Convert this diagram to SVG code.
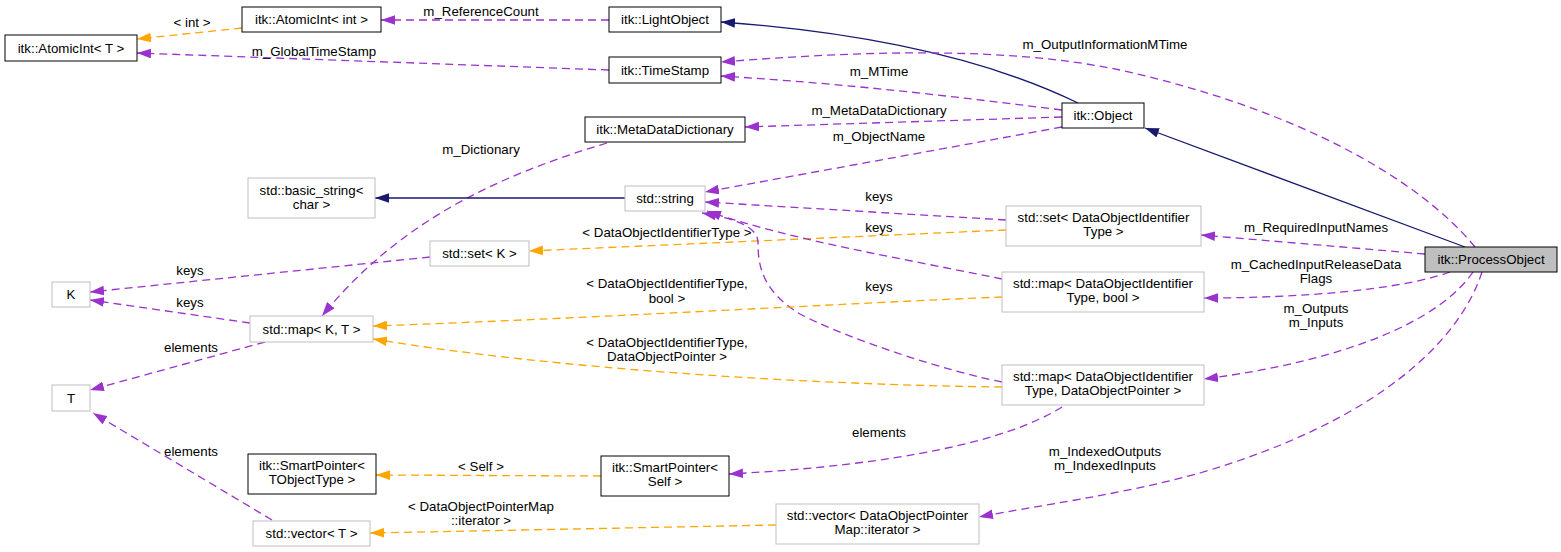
<svg xmlns="http://www.w3.org/2000/svg" width="1561" height="552" viewBox="0 0 1561 552">
<style>
text{font-family:"Liberation Sans",Arial,sans-serif;font-size:13.3px;fill:#000;text-anchor:middle}
.node rect{fill:#fff;stroke:#000;stroke-width:1}
.node.u rect{stroke:#bfbfbf}
.node.cur rect{fill:#bfbfbf}
.e{fill:none;stroke-width:1.3}
.p{stroke:#9a32cd;stroke-dasharray:8,5;marker-end:url(#mp)}
.o{stroke:#ffa500;stroke-dasharray:8,5;marker-end:url(#mo)}
.n{stroke:#191970;marker-end:url(#mn)}
</style>
<defs>
<marker id="mp" markerUnits="userSpaceOnUse" markerWidth="14" markerHeight="10" viewBox="0 0 13 9" refX="13" refY="4.5" orient="auto"><path d="M0,0L13,4.5L0,9z" fill="#9a32cd"/></marker>
<marker id="mo" markerUnits="userSpaceOnUse" markerWidth="14" markerHeight="10" viewBox="0 0 13 9" refX="13" refY="4.5" orient="auto"><path d="M0,0L13,4.5L0,9z" fill="#ffa500"/></marker>
<marker id="mn" markerUnits="userSpaceOnUse" markerWidth="14" markerHeight="10" viewBox="0 0 13 9" refX="13" refY="4.5" orient="auto"><path d="M0,0L13,4.5L0,9z" fill="#191970"/></marker>
</defs>
<rect width="1561" height="552" fill="#fff"/>
<g id="connectors">
<g><path class="e n" d="M1465,247L1145,128"/></g>
<g><path class="e n" d="M1078,103C1010,70 900,35 721,22"/></g>
<g><path class="e o" d="M242,28L137,39"/><text x="192" y="27">&lt; int &gt;</text></g>
<g><path class="e p" d="M609,20L381,20"/><text x="481" y="15.5">m_ReferenceCount</text></g>
<g><path class="e p" d="M609,70L137,53"/><text x="314" y="56">m_GlobalTimeStamp</text></g>
<g><path class="e p" d="M1062,110C950,96 850,84 721,76"/><text x="879" y="76">m_MTime</text></g>
<g><path class="e p" d="M1475,247C1420,180 1300,110 1120,70C1000,45 850,52 721,62"/><text x="1105" y="49">m_OutputInformationMTime</text></g>
<g><path class="e p" d="M1062,117L745,127"/><text x="879" y="115">m_MetaDataDictionary</text></g>
<g><path class="e p" d="M1062,127L705,192"/><text x="879" y="141">m_ObjectName</text></g>
<g><path class="e p" d="M607,143C500,175 400,220 322,316"/><text x="481" y="154">m_Dictionary</text></g>
<g><path class="e n" d="M625,198L375,198"/></g>
<g><path class="e p" d="M1006,220L705,202"/><text x="879" y="201">keys</text></g>
<g><path class="e o" d="M1006,230L529,251"/><text x="667" y="237">&lt; DataObjectIdentifierType &gt;</text></g>
<g><path class="e p" d="M1002,279C900,258 790,240 707,211"/><text x="879" y="232">keys</text></g>
<g><path class="e p" d="M1002,382C950,372 850,340 800,314C760,290 758,262 758,242C757,226 735,219 702,213"/><text x="879" y="291">keys</text></g>
<g><path class="e p" d="M430,257L90,292"/><text x="190" y="275">keys</text></g>
<g><path class="e p" d="M250,323L90,300"/><text x="190" y="307">keys</text></g>
<g><path class="e p" d="M265,342L90,390"/><text x="191" y="352">elements</text></g>
<g><path class="e o" d="M1002,297C850,303 600,318 373,326"/><text x="667" y="288">&lt; DataObjectIdentifierType,</text><text x="667" y="303">bool &gt;</text></g>
<g><path class="e o" d="M1002,387C820,385 560,370 373,339"/><text x="667" y="347">&lt; DataObjectIdentifierType,</text><text x="667" y="361">DataObjectPointer &gt;</text></g>
<g><path class="e p" d="M1062,407C1010,440 900,465 729,474"/><text x="879" y="437">elements</text></g>
<g><path class="e o" d="M601,476L376,475"/><text x="481" y="471">&lt; Self &gt;</text></g>
<g><path class="e p" d="M272,520L93,413"/><text x="191" y="456">elements</text></g>
<g><path class="e o" d="M776,525L370,533"/><text x="481" y="511">&lt; DataObjectPointerMap</text><text x="481" y="525">::iterator &gt;</text></g>
<g><path class="e p" d="M1425,254L1201,235"/><text x="1316" y="232">m_RequiredInputNames</text></g>
<g><path class="e p" d="M1450,272C1400,290 1300,298 1204,298"/><text x="1316" y="269">m_CachedInputReleaseData</text><text x="1316" y="283">Flags</text></g>
<g><path class="e p" d="M1473,272C1440,320 1350,360 1204,379"/><text x="1316" y="313">m_Outputs</text><text x="1316" y="327">m_Inputs</text></g>
<g><path class="e p" d="M1482,272C1460,340 1380,420 1200,473C1120,495 1040,505 979,517"/><text x="1105" y="456">m_IndexedOutputs</text><text x="1105" y="470">m_IndexedInputs</text></g>
</g>
<g id="atomicIntT" class="node"><rect x="5" y="35" width="132" height="26"/><text x="71" y="52.5">itk::AtomicInt&lt; T &gt;</text></g>
<g id="atomicIntInt" class="node"><rect x="242" y="7" width="139" height="25"/><text x="311.5" y="24">itk::AtomicInt&lt; int &gt;</text></g>
<g id="lightObject" class="node"><rect x="609" y="7" width="112" height="25"/><text x="665" y="24">itk::LightObject</text></g>
<g id="timeStamp" class="node"><rect x="609" y="57" width="112" height="26"/><text x="665" y="74.5">itk::TimeStamp</text></g>
<g id="metaDataDictionary" class="node"><rect x="585" y="117" width="160" height="25"/><text x="665" y="134">itk::MetaDataDictionary</text></g>
<g id="object" class="node"><rect x="1062" y="103" width="82" height="25"/><text x="1103" y="120">itk::Object</text></g>
<g id="processObject" class="node cur"><rect x="1425" y="247" width="132" height="25"/><text x="1491" y="264">itk::ProcessObject</text></g>
<g id="basicString" class="node u"><rect x="248" y="178" width="127" height="40"/><text x="311.5" y="195">std::basic_string&lt;</text><text x="311.5" y="209">char &gt;</text></g>
<g id="stdString" class="node u"><rect x="625" y="186" width="80" height="25"/><text x="665" y="203">std::string</text></g>
<g id="setK" class="node u"><rect x="430" y="241" width="99" height="25"/><text x="479.5" y="258">std::set&lt; K &gt;</text></g>
<g id="K" class="node u"><rect x="52" y="282" width="38" height="25"/><text x="71" y="299">K</text></g>
<g id="mapKT" class="node u"><rect x="250" y="316" width="123" height="26"/><text x="311.5" y="333.5">std::map&lt; K, T &gt;</text></g>
<g id="T" class="node u"><rect x="52" y="385" width="38" height="26"/><text x="71" y="402.5">T</text></g>
<g id="setDOI" class="node u"><rect x="1006" y="206" width="195" height="40"/><text x="1103.5" y="222">std::set&lt; DataObjectIdentifier</text><text x="1103.5" y="236">Type &gt;</text></g>
<g id="mapDOIBool" class="node u"><rect x="1002" y="272" width="202" height="40"/><text x="1103" y="288">std::map&lt; DataObjectIdentifier</text><text x="1103" y="302">Type, bool &gt;</text></g>
<g id="mapDOIDOP" class="node u"><rect x="1002" y="365" width="202" height="40"/><text x="1103" y="381">std::map&lt; DataObjectIdentifier</text><text x="1103" y="395">Type, DataObjectPointer &gt;</text></g>
<g id="smartPointerT" class="node"><rect x="248" y="454" width="128" height="40"/><text x="312" y="470">itk::SmartPointer&lt;</text><text x="312" y="484">TObjectType &gt;</text></g>
<g id="smartPointerSelf" class="node"><rect x="601" y="456" width="128" height="40"/><text x="665" y="472">itk::SmartPointer&lt;</text><text x="665" y="486">Self &gt;</text></g>
<g id="vectorT" class="node u"><rect x="253" y="521" width="117" height="25"/><text x="311.5" y="538">std::vector&lt; T &gt;</text></g>
<g id="vectorDOP" class="node u"><rect x="776" y="504" width="203" height="40"/><text x="877.5" y="520">std::vector&lt; DataObjectPointer</text><text x="877.5" y="534">Map::iterator &gt;</text></g>
</svg>
